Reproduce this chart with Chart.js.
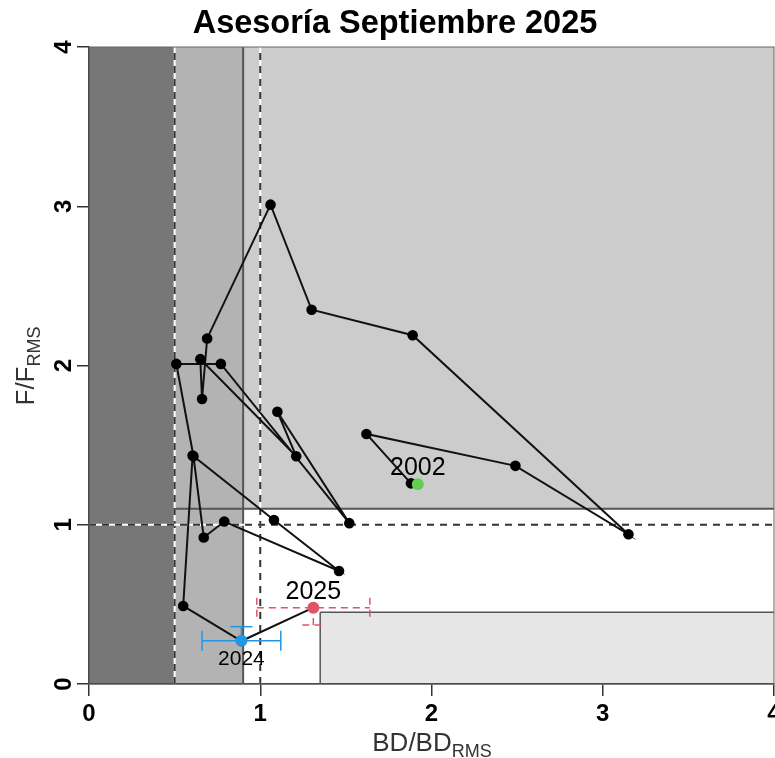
<!DOCTYPE html>
<html>
<head>
<meta charset="utf-8">
<script src="https://cdn.jsdelivr.net/npm/chart.js@4.4.1/dist/chart.umd.min.js"></script>
<style>
  html, body { margin: 0; padding: 0; background: #fff; overflow: hidden; }
  #wrap { width: 775px; height: 758px; overflow: hidden; }
</style>
</head>
<body>
<div id="wrap"><canvas id="kobe" width="780" height="758"></canvas></div>
<script>
// Trayectoria de la asesoria (BD/BDrms, F/Frms) por año
const years = [2002, 2003, 2004, 2005, 2006, 2007, 2008, 2009, 2010, 2011, 2012, 2013,
               2014, 2015, 2016, 2017, 2018, 2019, 2020, 2021, 2022, 2023, 2024, 2025];
const bdRatio = [1.88, 1.62, 2.49, 3.15, 1.89, 1.30, 1.06, 0.69, 0.66, 0.65, 1.21, 1.10,
                 1.52, 0.77, 0.51, 0.61, 0.67, 0.79, 1.46, 1.08, 0.605, 0.55, 0.89, 1.31];
const fRatio = [1.26, 1.57, 1.37, 0.94, 2.19, 2.35, 3.01, 2.17, 1.79, 2.04, 1.43, 1.71,
                1.01, 2.01, 2.01, 1.43, 0.92, 1.02, 0.71, 1.03, 1.435, 0.49, 0.27, 0.48];

// puntos destacados: primer año, año anterior y año actual
const markYears = ['2002', '2024', '2025'];
const markBD = [1.92, 0.89, 1.31];
const markF = [1.255, 0.272, 0.479];
const markColors = ['#61D04F', '#2297E6', '#DF536B'];

// intervalos (solo 2024 y 2025)
const errYears = ['2024', '2025'];
const errBDLow = [0.66, 0.98];
const errBDHigh = [1.12, 1.64];
const errFLow = [0.272, 0.371];
const errFHigh = [0.360, 0.479];

// puntos de referencia
const bdLim = 0.5, bdTrig = 0.9, bdRef = 1.0, bdSafe = 1.35;
const fRef = 1.0, fLim = 1.1, fSafe = 0.45;
const xTicks = [0, 1, 2, 3, 4];
const yTicks = [0, 1, 2, 3, 4];

const FONT = '"Liberation Sans", Arial, Helvetica, sans-serif';

function subText(ctx, x, y, main, sub, size, subSize) {
    ctx.font = size + 'px ' + FONT;
    const w1 = ctx.measureText(main).width;
    ctx.font = subSize + 'px ' + FONT;
    const w2 = ctx.measureText(sub).width;
    const start = x - (w1 + w2) / 2;
    ctx.textAlign = 'left';
    ctx.textBaseline = 'alphabetic';
    ctx.font = size + 'px ' + FONT;
    ctx.fillText(main, start, y);
    ctx.font = subSize + 'px ' + FONT;
    ctx.fillText(sub, start + w1, y + size * 0.22);
}

const zonePlugin = {
    id: 'zones',
    beforeDraw(chart) {
        const {ctx, scales: {x, y}} = chart;
        const px = v => x.getPixelForValue(v);
        const py = v => y.getPixelForValue(v);
        const box = (x0, x1, y0, y1, fill) => {
            ctx.fillStyle = fill;
            ctx.fillRect(px(x0), py(y1), px(x1) - px(x0), py(y0) - py(y1));
        };
        ctx.save();
        box(0, 4, 0, 4, '#ffffff');
        box(bdTrig, 4, fLim, 4, '#cccccc');
        box(bdSafe, 4, 0, fSafe, '#e6e6e6');
        box(0, bdLim, 0, 4, '#777777');
        box(bdLim, bdTrig, 0, 4, '#b3b3b3');
        ctx.restore();
    },
    beforeDatasetsDraw(chart) {
        const {ctx, scales: {x, y}} = chart;
        const px = v => x.getPixelForValue(v);
        const py = v => y.getPixelForValue(v);
        const seg = (x0, y0, x1, y1) => {
            ctx.beginPath();
            ctx.moveTo(px(x0), py(y0));
            ctx.lineTo(px(x1), py(y1));
            ctx.stroke();
        };
        ctx.save();
        // lineas solidas
        ctx.strokeStyle = '#555555';
        ctx.lineWidth = 2;
        seg(bdTrig, 0, bdTrig, 4);
        seg(bdLim, fLim, 4, fLim);
        ctx.lineWidth = 1.5;
        seg(bdSafe, 0, bdSafe, fSafe);
        seg(bdSafe, fSafe, 4, fSafe);
        // lineas discontinuas (blanco debajo)
        const dashed = (x0, y0, x1, y1) => {
            ctx.setLineDash([]);
            ctx.strokeStyle = '#ffffff';
            ctx.lineWidth = 2;
            seg(x0, y0, x1, y1);
            ctx.setLineDash([7, 6]);
            ctx.strokeStyle = '#333333';
            seg(x0, y0, x1, y1);
        };
        dashed(bdLim, 0, bdLim, 4);
        dashed(bdRef, 0, bdRef, 4);
        dashed(0, fRef, 4, fRef);
        ctx.setLineDash([]);
        // marco
        ctx.strokeStyle = '#666666';
        ctx.lineWidth = 1;
        const a = chart.chartArea;
        ctx.strokeRect(a.left, a.top, a.right - a.left, a.bottom - a.top);

        // barras de error
        errYears.forEach((yr, i) => {
            const k = markYears.indexOf(yr);
            const cx = px(markBD[k]), cy = py(markF[k]);
            ctx.strokeStyle = markColors[k];
            ctx.lineWidth = 1.5;
            ctx.setLineDash(yr === '2025' ? [7, 5] : []);
            const line = (a0, b0, a1, b1) => {
                ctx.beginPath(); ctx.moveTo(a0, b0); ctx.lineTo(a1, b1); ctx.stroke();
            };
            const xl = px(errBDLow[i]), xh = px(errBDHigh[i]);
            line(xl, cy, xh, cy);
            line(xl, cy - 10, xl, cy + 10);
            line(xh, cy - 10, xh, cy + 10);
            const yl = py(errFLow[i]), yh = py(errFHigh[i]);
            line(cx, yl, cx, yh);
            if (Math.abs(yl - cy) > 1) line(cx - 11, yl, cx + 11, yl);
            if (Math.abs(yh - cy) > 1) line(cx - 11, yh, cx + 11, yh);
        });
        ctx.restore();
    },
    afterDraw(chart) {
        const {ctx, scales: {x, y}} = chart;
        ctx.save();
        ctx.fillStyle = '#000';
        // titulo
        ctx.font = 'bold 32.5px ' + FONT;
        ctx.textAlign = 'center';
        ctx.textBaseline = 'alphabetic';
        ctx.fillText('Asesoría Septiembre 2025', 395, 33);
        // etiquetas de años
        const offs = {'2002': [0, -16, 25], '2024': [0, 19, 21], '2025': [0, -16, 25]};
        markYears.forEach((yr, k) => {
            const o = offs[yr];
            ctx.font = o[2] + 'px ' + FONT;
            ctx.textAlign = 'center';
            ctx.textBaseline = 'middle';
            ctx.fillText(yr, x.getPixelForValue(markBD[k]) + o[0], y.getPixelForValue(markF[k]) + o[1]);
        });
        // titulos de ejes
        ctx.fillStyle = '#333';
        subText(ctx, 432, 751, 'BD/BD', 'RMS', 26, 18);
        ctx.translate(34, 366);
        ctx.rotate(-Math.PI / 2);
        subText(ctx, 0, 0, 'F/F', 'RMS', 26, 18);
        ctx.restore();
    }
};

const ctx = document.getElementById('kobe').getContext('2d');
new Chart(ctx, {
    type: 'scatter',
    data: {
        datasets: [{
            label: 'Trayectoria',
            data: years.map((yr, i) => ({x: bdRatio[i], y: fRatio[i]})),
            showLine: true,
            borderColor: '#111111',
            borderWidth: 2,
            pointRadius: 5.3,
            pointBackgroundColor: '#000',
            pointBorderWidth: 0,
            order: 2
        }, {
            label: 'Destacados',
            data: markYears.map((yr, k) => ({x: markBD[k], y: markF[k]})),
            pointRadius: 6,
            pointBackgroundColor: markColors,
            pointBorderWidth: 0,
            order: 1
        }]
    },
    options: {
        responsive: false,
        animation: false,
        devicePixelRatio: 1,
        layout: { padding: { top: 47, right: 2, left: 0, bottom: 0 } },
        plugins: { legend: { display: false }, tooltip: { enabled: false }, title: { display: false } },
        scales: {
            x: {
                type: 'linear',
                min: 0,
                max: 4,
                afterBuildTicks: s => { s.ticks = xTicks.map(v => ({value: v})); },
                afterFit: s => { s.height = 74; s.paddingLeft = 0; s.paddingRight = 0; },
                ticks: { color: '#000', font: { family: FONT, size: 24, weight: 'bold' }, padding: 4, maxRotation: 0 },
                grid: { drawOnChartArea: false, tickLength: 12, color: '#333', lineWidth: 1.5 },
                border: { color: '#333', width: 1.5 }
            },
            y: {
                type: 'linear',
                min: 0,
                max: 4,
                afterBuildTicks: s => { s.ticks = yTicks.map(v => ({value: v})); },
                afterFit: s => { s.width = 89; s.paddingTop = 0; s.paddingBottom = 0; },
                ticks: { color: '#000', font: { family: FONT, size: 24, weight: 'bold' }, padding: 6,
                         minRotation: 90, maxRotation: 90, crossAlign: 'center' },
                grid: { drawOnChartArea: false, tickLength: 12, color: '#333', lineWidth: 1.5 },
                border: { color: '#333', width: 1.5 }
            }
        }
    },
    plugins: [zonePlugin]
});
</script>
</body>
</html>
